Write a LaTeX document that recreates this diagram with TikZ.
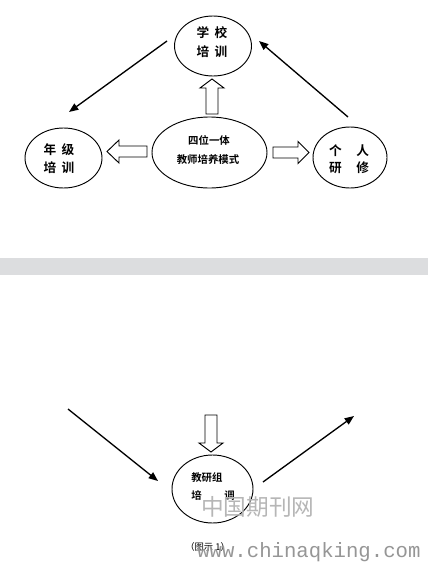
\documentclass[tikz,border=0pt]{standalone}
\usepackage{fontspec}
\newfontfamily\cjk{Noto Sans CJK SC}
\newfontfamily\cjkb{Noto Sans CJK SC Bold}
\setmonofont{Liberation Mono}
\usetikzlibrary{shapes.geometric,arrows.meta}
\definecolor{band}{RGB}{220,221,223}
\definecolor{wm}{RGB}{150,150,150}
\tikzset{
  ell/.style={draw=black, line width=0.7pt, ellipse, inner sep=0pt},
  lbl/.style={font=\cjkb\fontsize{9.5}{10}\selectfont, inner sep=0pt, anchor=center},
  slbl/.style={font=\cjkb\fontsize{7.8}{9}\selectfont, inner sep=0pt, anchor=center},
  thin arrow/.style={line width=1pt, -{Triangle[length=7pt,width=5.5pt]}},
  hollow/.style={draw=black, line width=0.7pt, fill=white},
}
\begin{document}
\begin{tikzpicture}[x=0.75pt,y=-0.75pt]
\useasboundingbox (0,0) rectangle (428,564);
\fill[white] (0,0) rectangle (428,564);
% top ellipses
\node[ell, minimum width=57.75pt, minimum height=45pt] (school) at (213,46) {};
\node[ell, minimum width=57.75pt, minimum height=45pt] (grade) at (63.5,158) {};
\node[ell, minimum width=86.25pt, minimum height=53.25pt] (core) at (209.5,152.5) {};
\node[ell, minimum width=55.5pt, minimum height=45.75pt] (self) at (350,157.5) {};
% labels
\node[lbl] (t1) at (212,33) {学\hspace{4pt}校};
\node[lbl] (t2) at (212,52) {培\hspace{4pt}训};
\node[lbl] (g1) at (59,150) {年\hspace{4pt}级};
\node[lbl] (g2) at (59,168) {培\hspace{4pt}训};
\node[slbl] (c1) at (209,140) {四位一体};
\node[slbl] (c2) at (208,160) {教师培养模式};
\node[lbl] (s1) at (349,151) {个\hspace{11pt}人};
\node[lbl] (s2) at (349,168) {研\hspace{11pt}修};
% hollow arrows
\draw[hollow] (206,114)--(206,88)--(200,88)--(212,79)--(224,88)--(218,88)--(218,114)--cycle;
\draw[hollow] (147,146)--(119,146)--(119,140)--(107,151.5)--(119,163)--(119,157)--(147,157)--cycle;
\draw[hollow] (273,147)--(298,147)--(298,141.5)--(309,152.5)--(298,163.5)--(298,158)--(273,158)--cycle;
% thin arrows
\coordinate (a1s) at (167,41);
\coordinate (a1e) at (69,112);
\coordinate (a2s) at (348,117);
\coordinate (a2e) at (259,41);
\draw[thin arrow] (a1s) -- (a1e);
\draw[thin arrow] (a2s) -- (a2e);
% band
\fill[band] (0,258) rectangle (428,275);
% bottom
\node[ell, minimum width=60.75pt, minimum height=51pt] (group) at (212.5,489) {};
\node[slbl, anchor=west] (b1) at (191,478) {教研组};
\node[slbl, anchor=west] (b2) at (191,496) {培\hspace{17pt}调};
\draw[hollow] (205,415)--(205,443)--(199,443)--(211,452)--(223,443)--(217,443)--(217,415)--cycle;
\coordinate (b3s) at (68,409);
\coordinate (b3e) at (158,481);
\coordinate (b4s) at (263,482);
\coordinate (b4e) at (354,416);
\draw[thin arrow] (b3s) -- (b3e);
\draw[thin arrow] (b4s) -- (b4e);
\node[font=\cjk\fontsize{7}{8}\selectfont, inner sep=0pt, anchor=west] (cap) at (185,547) {（图示 1）};
% watermark
\node[font=\cjk\fontsize{17}{18}\selectfont, text=wm!70, inner sep=0pt, anchor=west] (wm1) at (201,507) {中国期刊网};
\node[font=\ttfamily\fontsize{15.5}{16}\selectfont, text=wm, inner sep=0pt, anchor=west] (wm2) at (197,552) {www.chinaqking.com};
\end{tikzpicture}
\end{document}
